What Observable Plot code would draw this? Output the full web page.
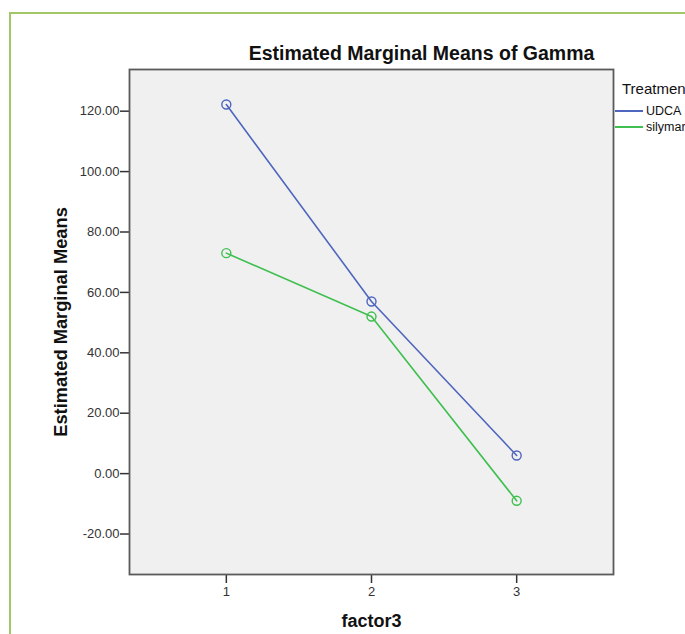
<!DOCTYPE html>
<html><head><meta charset="utf-8">
<script src="https://cdn.jsdelivr.net/npm/d3@7"></script>
<script src="https://cdn.jsdelivr.net/npm/@observablehq/plot@0.6"></script>
<style>
html,body{margin:0;padding:0;background:#fff;overflow:hidden;width:685px;height:634px}
#frame{position:absolute;left:9px;top:12px;width:720px;height:720px;border:2px solid #a3c766;box-sizing:border-box}
#chart{position:absolute;left:0;top:0}
#legend{position:absolute;left:0;top:0;font-family:"Liberation Sans",Arial,sans-serif;color:#111;white-space:nowrap}
#legend .t{position:absolute;left:622px;top:80.5px;font-size:15px;line-height:1}
#legend .it{position:absolute;left:615px;height:16px;display:flex;align-items:center;font-size:12.5px;line-height:1}
#legend .sw{display:inline-block;width:28px;height:2px;margin-right:3px}
</style></head><body>
<div id="frame"></div>
<div id="chart"></div>
<div id="legend"></div>
<script>
const factor3 = [1, 2, 3];
const treatments = ["UDCA", "silymarin"];
const udca = [122.2, 57.0, 6.0];
const silymarin = [73.0, 52.0, -9.0];
const colors = ["#4f66be", "#3fbf4f"];
const yTicks = [-20, 0, 20, 40, 60, 80, 100, 120];
const xTicks = [1, 2, 3];
const title = "Estimated Marginal Means of Gamma";
const yLabel = "Estimated Marginal Means";
const xLabel = "factor3";
const legendTitle = "Treatment";

const series = [udca, silymarin];
const data = treatments.flatMap((t, i) => factor3.map((f, j) => ({treatment: t, factor3: f, value: series[i][j]})));

const font = '"Liberation Sans", Arial, sans-serif';
const chart = Plot.plot({
  width: 685,
  height: 634,
  marginLeft: 129,
  marginRight: 72,
  marginTop: 69,
  marginBottom: 60,
  style: {fontFamily: font, background: "transparent", overflow: "visible"},
  x: {domain: [0.333, 3.667]},
  y: {domain: [-33.4, 133.8]},
  color: {domain: treatments, range: colors},
  marks: [
    Plot.frame({fill: "#f0f0f0", stroke: null}),
    Plot.axisX({ticks: xTicks, tickFormat: d => String(d), tickSize: 9, tickPadding: 3, fontSize: 13, stroke: "#333", strokeWidth: 1.5, fill: "#333", label: null}),
    Plot.axisY({ticks: yTicks, tickFormat: d => d.toFixed(2), tickSize: 9, tickPadding: 1, fontSize: 13, stroke: "#333", strokeWidth: 1.5, fill: "#333", label: null}),
    Plot.line(data, {x: "factor3", y: "value", stroke: "treatment", strokeWidth: 1.6}),
    Plot.dot(data, {x: "factor3", y: "value", stroke: "treatment", r: 4.5, strokeWidth: 1.4, fill: "none"}),
    Plot.frame({stroke: "#5a5a5a", strokeWidth: 1.8}),
    Plot.text([title], {frameAnchor: "top", lineAnchor: "middle", dx: 50, dy: -16, fontSize: 19.5, fontWeight: "bold", fill: "#111"}),
    Plot.text([yLabel], {frameAnchor: "left", textAnchor: "middle", lineAnchor: "middle", rotate: -90, dx: -68.5, dy: 0, fontSize: 18.3, fontWeight: "bold", fill: "#111"}),
    Plot.text([xLabel], {frameAnchor: "bottom", lineAnchor: "middle", dy: 46.5, fontSize: 18, fontWeight: "bold", fill: "#111"})
  ]
});
document.getElementById("chart").append(chart);

const lg = document.getElementById("legend");
const t = document.createElement("div"); t.className = "t"; t.textContent = legendTitle; lg.append(t);
const lineY = [111, 127.3];
treatments.forEach((name, i) => {
  const it = document.createElement("div"); it.className = "it"; it.style.top = (lineY[i] - 8) + "px";
  const sw = document.createElement("span"); sw.className = "sw"; sw.style.background = colors[i];
  it.append(sw, document.createTextNode(name)); lg.append(it);
});
</script>
</body></html>
